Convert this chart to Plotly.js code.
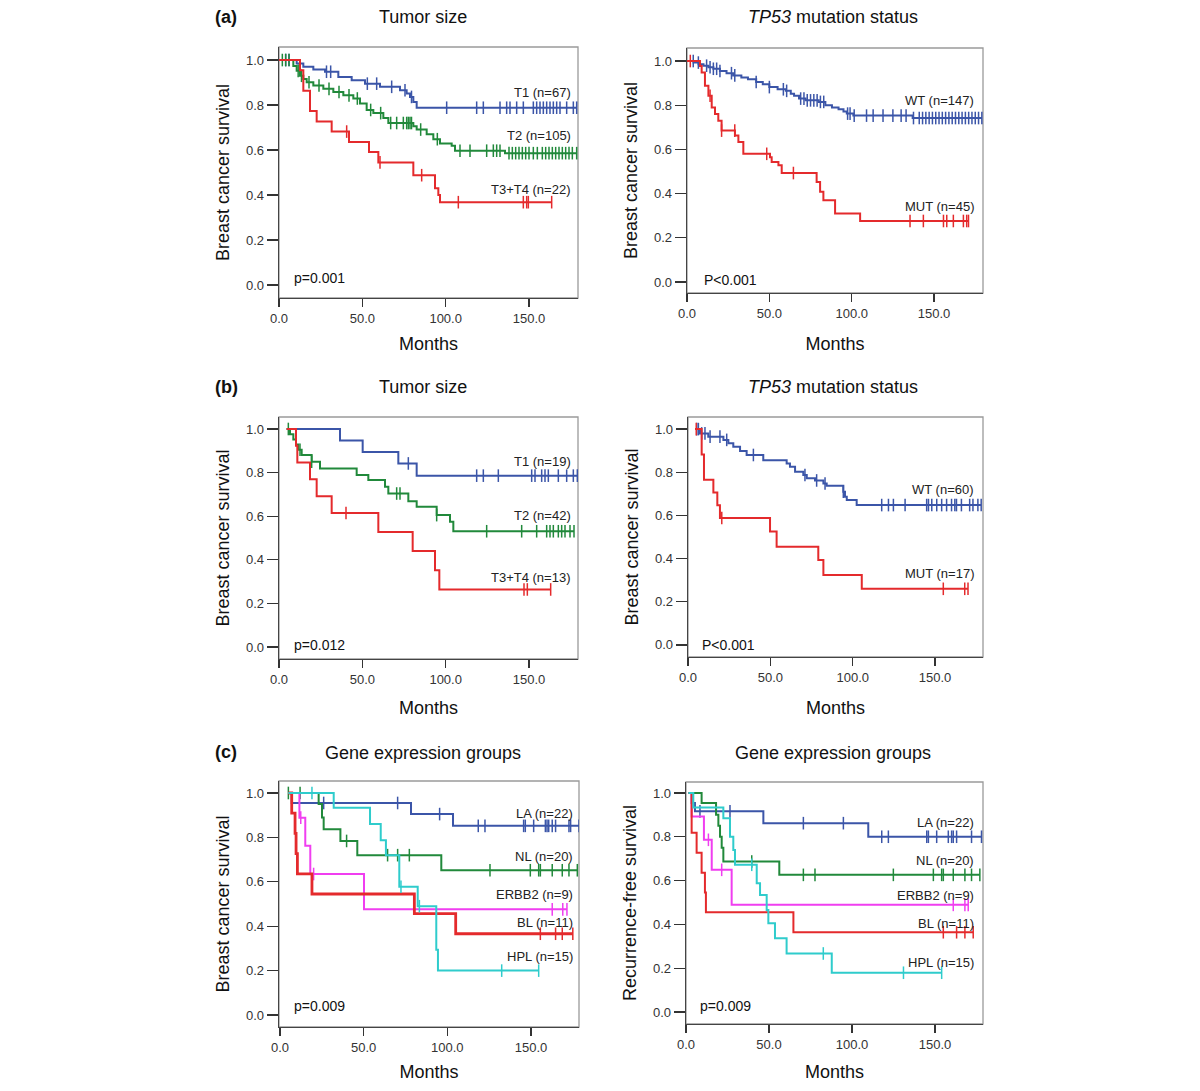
<!DOCTYPE html>
<html>
<head>
<meta charset="utf-8">
<script src="https://cdn.plot.ly/plotly-3.0.1.min.js"></script>
<style>
  body { margin: 0; background: #fff; }
  #chart { width: 1200px; height: 1091px; }
</style>
</head>
<body>
<div id="chart"></div>
<script>
// (a) left: tumor size, breast cancer survival (months / survival, + censored cases)
const aSizeT1Time = [0, 10.6, 14.6, 20.6, 27.6, 35.6, 43.6, 51.6, 60.6, 72.6, 76.6, 78.6, 80.6, 82.6];
const aSizeT1Surv = [1, 0.985, 0.970, 0.958, 0.948, 0.925, 0.910, 0.895, 0.881, 0.866, 0.851, 0.836, 0.814, 0.788];
const aSizeT1Cens = [4, 6, 28.5, 31, 53, 58.6, 67.6, 75.6, 79.5, 100.6, 118.6, 122.6, 132.6, 136.6, 138.6, 142.6, 146.6, 152.6, 154.6, 156.6, 158.6, 160.6, 162.6, 164.6, 166.6, 168.6, 172.6, 176.6, 178.6];
const aSizeT2Time = [0, 8.6, 10.6, 12.6, 14.6, 16.6, 20.6, 26.6, 32.6, 38.6, 44.6, 48.6, 52.6, 56.6, 62.6, 65.6, 80.6, 82.6, 88.6, 92.6, 96.6, 103.6, 105.6, 135.6];
const aSizeT2Surv = [1, 0.974, 0.952, 0.930, 0.916, 0.901, 0.887, 0.872, 0.858, 0.843, 0.829, 0.807, 0.778, 0.764, 0.742, 0.720, 0.706, 0.691, 0.670, 0.648, 0.629, 0.619, 0.597, 0.586];
const aSizeT2Cens = [2, 4, 6, 11.5, 13.5, 18, 24, 30, 36, 42, 47, 55, 61, 67, 70.6, 74.6, 76.6, 77.6, 78.6, 79.5, 85, 95, 108.6, 114.6, 124.6, 128.6, 130.6, 132.6, 138, 140, 142, 144, 146, 148, 150, 152.6, 155, 158, 160, 162, 164, 166, 168, 170, 172, 174, 176, 178.6];
const aSizeT34Time = [0, 12.6, 14.6, 18.6, 22.6, 31.6, 42, 54, 59.6, 80.6, 93.6, 95.6, 96.6];
const aSizeT34Surv = [1, 0.955, 0.864, 0.773, 0.727, 0.682, 0.636, 0.591, 0.545, 0.488, 0.43, 0.40, 0.368];
const aSizeT34Cens = [40.6, 60.6, 85.6, 107.6, 146.6, 148.6, 149.6, 163.6];

// (a) right: TP53 mutation status
const aTp53WtTime = [0, 4, 7, 10, 13, 16, 20, 24, 28, 33, 37, 42, 46, 50, 55, 60, 63, 65, 68, 72, 80, 84, 88, 92, 95, 97, 101, 137];
const aTp53WtSurv = [1, 0.993, 0.986, 0.979, 0.972, 0.965, 0.955, 0.945, 0.935, 0.925, 0.918, 0.905, 0.895, 0.882, 0.872, 0.865, 0.852, 0.843, 0.83, 0.822, 0.815, 0.80, 0.79, 0.782, 0.772, 0.762, 0.753, 0.742];
const aTp53WtCens = [3.8, 6.9, 11.9, 14, 16, 18, 20, 27, 29, 42, 50, 58.5, 60.5, 69, 71, 73, 75, 77, 79, 81, 83, 97.5, 99, 101.5, 109, 113, 119, 125, 130, 133, 137.5, 141, 143, 145, 147, 149, 151, 153, 155, 157, 159, 161, 163, 165, 167, 169, 171, 173, 175, 177, 179];
const aTp53MutTime = [0, 7.9, 8.9, 10.9, 13, 15, 17, 19, 21, 29.1, 31.2, 34.2, 50.4, 51.4, 55.5, 57.5, 78.7, 80.8, 82.8, 89.9, 105.1];
const aTp53MutSurv = [1, 0.978, 0.948, 0.888, 0.843, 0.79, 0.76, 0.73, 0.685, 0.663, 0.633, 0.58, 0.565, 0.543, 0.528, 0.493, 0.453, 0.408, 0.37, 0.31, 0.276];
const aTp53MutCens = [2, 14, 21, 29, 48.4, 64.6, 135.4, 143.5, 155.7, 157.7, 161.7, 167.8, 169.8, 170.9];

// (b) left: tumor size
const bSizeT1Time = [4.6, 36.6, 50.2, 71.6, 82.6];
const bSizeT1Surv = [1, 0.947, 0.895, 0.842, 0.786];
const bSizeT1Cens = [77.6, 118.6, 122.6, 131.6, 151.6, 153.6, 157.6, 159.6, 161.6, 167.6, 172.6, 176.6, 179];
const bSizeT2Time = [4.6, 6.6, 8.6, 10.2, 11.6, 13.6, 19.6, 24.6, 46.6, 53.6, 63.6, 65.6, 77.6, 82.6, 94.6, 102.6, 104.6];
const bSizeT2Surv = [1, 0.976, 0.952, 0.929, 0.905, 0.881, 0.85, 0.819, 0.789, 0.766, 0.735, 0.704, 0.669, 0.643, 0.605, 0.574, 0.531];
const bSizeT2Cens = [5.6, 12.6, 19.6, 70.6, 72.6, 94.6, 124.6, 145.6, 154.6, 160.6, 162.6, 164.6, 167.6, 169.6, 171.6, 174.6, 177];
const bSizeT34Time = [4.6, 10.2, 11, 18.6, 22.6, 31.6, 59.6, 80.2, 93.6, 96.2];
const bSizeT34Surv = [1, 0.923, 0.846, 0.769, 0.692, 0.615, 0.528, 0.44, 0.352, 0.264];
const bSizeT34Cens = [40.2, 147, 149, 163];

// (b) right: TP53 mutation status
const bTp53WtTime = [4.3, 7.3, 12.3, 21.5, 24.5, 27.5, 31.6, 35.6, 45.7, 59.9, 61.9, 65, 70, 72.1, 77.1, 82.2, 84.2, 94.3, 95.3, 96.4, 102.4];
const bTp53WtSurv = [1, 0.98, 0.965, 0.95, 0.934, 0.918, 0.898, 0.88, 0.856, 0.841, 0.826, 0.802, 0.787, 0.772, 0.762, 0.748, 0.738, 0.71, 0.687, 0.671, 0.648];
const bTp53WtCens = [5.3, 6.3, 8.3, 10.3, 13.4, 19.4, 23.5, 39.7, 71, 78.1, 83.2, 94.3, 117.6, 121.7, 124.7, 131.8, 144.9, 146, 148, 151, 154, 157, 160, 162, 163, 166, 171, 173, 176, 178];
const bTp53MutTime = [4.3, 8.3, 9.7, 15.4, 17.8, 19.4, 49.8, 53.8, 79.1, 82.2, 105.5];
const bTp53MutSurv = [1, 0.882, 0.765, 0.706, 0.647, 0.588, 0.525, 0.455, 0.393, 0.324, 0.26];
const bTp53MutCens = [5, 20.5, 155, 168, 170];

// (c) left: gene expression groups, breast cancer survival
const cBcsLaTime = [5, 7, 78.3, 103.4];
const cBcsLaSurv = [1, 0.955, 0.905, 0.852];
const cBcsLaCens = [26.1, 70.3, 95.4, 118.5, 122.5, 145.6, 146.6, 151.6, 158.6, 159.6, 160.6, 162.7, 164.7, 172.7, 173.7, 178.7];
const cBcsNlTime = [5, 23.1, 25.1, 26.1, 36.1, 46.2, 96.4];
const cBcsNlSurv = [1, 0.95, 0.89, 0.837, 0.784, 0.72, 0.652];
const cBcsNlCens = [5, 12, 39.8, 64.3, 70.3, 77.3, 125.5, 149.6, 154.6, 155.6, 162.7, 168.7, 172.7, 177.7];
const cBcsErbTime = [5, 11.6, 15.1, 18.1, 50.2];
const cBcsErbSurv = [1, 0.889, 0.762, 0.635, 0.476];
const cBcsErbCens = [12.4, 20.1, 162.7, 169, 171.5];
const cBcsBlTime = [5, 7, 9, 9.6, 10.4, 19.1, 80.3, 105];
const cBcsBlSurv = [1, 0.909, 0.818, 0.727, 0.636, 0.545, 0.457, 0.366];
const cBcsBlCens = [155.6, 164.7, 168.7, 175];
const cBcsHplTime = [5, 32.1, 53.8, 60.2, 63.3, 71.3, 82.3, 93.4, 94.4];
const cBcsHplSurv = [1, 0.933, 0.86, 0.787, 0.72, 0.578, 0.49, 0.294, 0.2];
const cBcsHplCens = [19.1, 72.3, 83.3, 132.5, 154.6];

// (c) right: gene expression groups, recurrence-free survival
const cRfsLaTime = [1.4, 3.4, 5.4, 46.6, 109.8];
const cRfsLaSurv = [1, 0.954, 0.916, 0.862, 0.80];
const cRfsLaCens = [8.4, 26.5, 70.7, 94.8, 117.9, 121.9, 145, 146, 151, 158, 160, 161, 163, 172, 178];
const cRfsNlTime = [1.4, 9.4, 18.1, 19.5, 20.5, 21.5, 22.5, 56.2];
const cRfsNlSurv = [1, 0.954, 0.90, 0.85, 0.80, 0.75, 0.687, 0.626];
const cRfsNlCens = [39.6, 70.7, 77.7, 124.9, 149, 154, 155, 161, 168, 172, 177];
const cRfsErbTime = [1.4, 3.4, 10.8, 15.5, 27.5];
const cRfsErbSurv = [1, 0.893, 0.786, 0.649, 0.489];
const cRfsErbCens = [13.5, 21.5, 161, 168, 170];
const cRfsBlTime = [1.4, 3.4, 6.4, 9.4, 11.4, 12, 64.7];
const cRfsBlSurv = [1, 0.818, 0.727, 0.636, 0.545, 0.455, 0.364];
const cRfsBlCens = [155, 163, 168, 173];
const cRfsHplTime = [1.4, 4.4, 22.5, 26.5, 28.5, 29.5, 42.6, 44.6, 48.6, 49.6, 53.6, 60.6, 87.8];
const cRfsHplSurv = [1, 0.933, 0.885, 0.80, 0.74, 0.672, 0.588, 0.534, 0.466, 0.405, 0.336, 0.267, 0.179];
const cRfsHplCens = [39.6, 82.7, 131, 154];

// texts
const panelTitles = ['Tumor size', '<i>TP53</i> mutation status', 'Tumor size', '<i>TP53</i> mutation status', 'Gene expression groups', 'Gene expression groups'];
const yTitles = ['Breast cancer survival', 'Breast cancer survival', 'Breast cancer survival', 'Breast cancer survival', 'Breast cancer survival', 'Recurrence-free survival'];
const pValues = ['p=0.001', 'P<0.001', 'p=0.012', 'P<0.001', 'p=0.009', 'p=0.009'];
const panelLetters = ['(a)', '(b)', '(c)'];

const BLUE = '#3b55a8', GREEN = '#21893b', RED = '#e42a2c', MAGENTA = '#f03ef0', CYAN = '#2fcccc';

const panels = [
  [
    {label: 'T1 (n=67)', time: aSizeT1Time, surv: aSizeT1Surv, cens: aSizeT1Cens, color: BLUE},
    {label: 'T2 (n=105)', time: aSizeT2Time, surv: aSizeT2Surv, cens: aSizeT2Cens, color: GREEN},
    {label: 'T3+T4 (n=22)', time: aSizeT34Time, surv: aSizeT34Surv, cens: aSizeT34Cens, color: RED}
  ],
  [
    {label: 'WT (n=147)', time: aTp53WtTime, surv: aTp53WtSurv, cens: aTp53WtCens, color: BLUE},
    {label: 'MUT (n=45)', time: aTp53MutTime, surv: aTp53MutSurv, cens: aTp53MutCens, color: RED}
  ],
  [
    {label: 'T1 (n=19)', time: bSizeT1Time, surv: bSizeT1Surv, cens: bSizeT1Cens, color: BLUE},
    {label: 'T2 (n=42)', time: bSizeT2Time, surv: bSizeT2Surv, cens: bSizeT2Cens, color: GREEN},
    {label: 'T3+T4 (n=13)', time: bSizeT34Time, surv: bSizeT34Surv, cens: bSizeT34Cens, color: RED}
  ],
  [
    {label: 'WT (n=60)', time: bTp53WtTime, surv: bTp53WtSurv, cens: bTp53WtCens, color: BLUE},
    {label: 'MUT (n=17)', time: bTp53MutTime, surv: bTp53MutSurv, cens: bTp53MutCens, color: RED}
  ],
  [
    {label: 'LA (n=22)', time: cBcsLaTime, surv: cBcsLaSurv, cens: cBcsLaCens, color: BLUE},
    {label: 'NL (n=20)', time: cBcsNlTime, surv: cBcsNlSurv, cens: cBcsNlCens, color: GREEN},
    {label: 'ERBB2 (n=9)', time: cBcsErbTime, surv: cBcsErbSurv, cens: cBcsErbCens, color: MAGENTA},
    {label: 'BL (n=11)', time: cBcsBlTime, surv: cBcsBlSurv, cens: cBcsBlCens, color: RED, width: 2.8},
    {label: 'HPL (n=15)', time: cBcsHplTime, surv: cBcsHplSurv, cens: cBcsHplCens, color: CYAN}
  ],
  [
    {label: 'LA (n=22)', time: cRfsLaTime, surv: cRfsLaSurv, cens: cRfsLaCens, color: BLUE},
    {label: 'NL (n=20)', time: cRfsNlTime, surv: cRfsNlSurv, cens: cRfsNlCens, color: GREEN},
    {label: 'ERBB2 (n=9)', time: cRfsErbTime, surv: cRfsErbSurv, cens: cRfsErbCens, color: MAGENTA},
    {label: 'BL (n=11)', time: cRfsBlTime, surv: cRfsBlSurv, cens: cRfsBlCens, color: RED},
    {label: 'HPL (n=15)', time: cRfsHplTime, surv: cRfsHplSurv, cens: cRfsHplCens, color: CYAN}
  ]
];

// frame boxes in px (left, right, top, bottom), axis ranges, label spots
const boxes = [
  {l: 279, r: 578, t: 47, b: 298, xr: [0, 179.4], yr: [-0.058, 1.058], so: 12, labX: 176.4, labY: [0.857, 0.663, 0.425], pX: 7.8, pY: 0.03},
  {l: 687, r: 983, t: 48, b: 293, xr: [0, 179.7], yr: [-0.050, 1.059], so: 17, labX: 175.5, labY: [0.823, 0.34], pX: 8.9, pY: 0.01},
  {l: 279, r: 578, t: 417, b: 659, xr: [0, 179.4], yr: [-0.055, 1.055], so: 15, labX: 176.2, labY: [0.85, 0.605, 0.318], pX: 7.6, pY: 0.008},
  {l: 688, r: 983, t: 417, b: 657, xr: [0, 179.1], yr: [-0.056, 1.056], so: 17, labX: 174.9, labY: [0.718, 0.332], pX: 7.3, pY: 0.0},
  {l: 279, r: 579, t: 781, b: 1027, xr: [-0.6, 178.7], yr: [-0.054, 1.054], so: 11, labX: 176.3, labY: [0.908, 0.713, 0.543, 0.415, 0.264], pX: 7, pY: 0.041},
  {l: 686, r: 983, t: 782, b: 1024, xr: [0, 178.9], yr: [-0.055, 1.05], so: 14, labX: 174.7, labY: [0.867, 0.69, 0.534, 0.405, 0.224], pX: 7.4, pY: 0.026}
];

const W = 1200, H = 1091;
const FONT = 'Arial, "Liberation Sans", sans-serif';

function survAt(time, surv, t) {
  let s = surv[0];
  for (let i = 0; i < time.length; i++) {
    if (time[i] <= t) s = surv[i];
  }
  return s;
}

let data = [];
let annotations = [];
let shapes = [];
let layout = {
  width: W,
  height: H,
  margin: {l: 0, r: 0, t: 0, b: 0},
  paper_bgcolor: '#fff',
  plot_bgcolor: '#fff',
  showlegend: false,
  font: {family: FONT, color: '#222'}
};

panels.forEach((curves, i) => {
  const box = boxes[i];
  const sfx = i === 0 ? '' : String(i + 1);
  const xa = 'x' + sfx, ya = 'y' + sfx;

  curves.forEach((c, k) => {
    const last = c.surv[c.surv.length - 1];
    const end = Math.max(c.time[c.time.length - 1], c.cens[c.cens.length - 1]);
    data.push({
      x: c.time.concat([end]),
      y: c.surv.concat([last]),
      mode: 'lines',
      line: {shape: 'hv', color: c.color, width: c.width || 2},
      xaxis: xa, yaxis: ya, hoverinfo: 'skip'
    });
    data.push({
      x: c.cens,
      y: c.cens.map(t => survAt(c.time, c.surv, t)),
      mode: 'markers',
      marker: {symbol: 'line-ns', size: 9, color: c.color, line: {color: c.color, width: 1.5}},
      xaxis: xa, yaxis: ya, hoverinfo: 'skip'
    });
    annotations.push({
      xref: xa, yref: ya, x: box.labX, y: box.labY[k],
      text: c.label, showarrow: false, xanchor: 'right', yanchor: 'middle',
      font: {size: 13, color: '#222', family: FONT}
    });
  });

  annotations.push({
    xref: xa, yref: ya, x: box.pX, y: box.pY, text: pValues[i], showarrow: false,
    xanchor: 'left', yanchor: 'middle', font: {size: 14, color: '#111', family: FONT}
  });

  // panel title
  annotations.push({
    xref: 'paper', yref: 'paper',
    x: (i % 2 === 0 ? 423 : 833) / W,
    y: 1 - ([17, 17, 387, 387, 753, 753][i]) / H,
    text: panelTitles[i], showarrow: false, xanchor: 'center', yanchor: 'middle',
    font: {size: 18, color: '#111', family: FONT}
  });

  layout['xaxis' + sfx] = {
    domain: [box.l / W, box.r / W],
    anchor: ya,
    range: box.xr,
    tickvals: [0, 50, 100, 150],
    tickformat: '.1f',
    ticks: 'outside', ticklen: 8, tickwidth: 1.3, tickcolor: '#333',
    showline: true, linecolor: '#444', linewidth: 1.4,
    showgrid: false, zeroline: false,
    tickfont: {size: 13, color: '#333', family: FONT},
    title: {text: 'Months', font: {size: 18, color: '#111', family: FONT}, standoff: box.so}
  };
  layout['yaxis' + sfx] = {
    domain: [1 - box.b / H, 1 - box.t / H],
    anchor: xa,
    range: box.yr,
    tickvals: [0, 0.2, 0.4, 0.6, 0.8, 1.0],
    tickformat: '.1f',
    ticks: 'outside', ticklen: 11, tickwidth: 1.3, tickcolor: '#333',
    showline: true, linecolor: '#444', linewidth: 1.4,
    showgrid: false, zeroline: false,
    tickfont: {size: 13, color: '#333', family: FONT},
    title: {text: yTitles[i], font: {size: 18, color: '#111', family: FONT}, standoff: 11}
  };

  shapes.push({
    type: 'rect', xref: xa + ' domain', yref: ya + ' domain',
    x0: 0, x1: 1, y0: 0, y1: 1,
    line: {color: '#9a9a9a', width: 1.3}, layer: 'below'
  });
});

panelLetters.forEach((txt, k) => {
  annotations.push({
    xref: 'paper', yref: 'paper', x: 226 / W, y: 1 - [17, 387, 752][k] / H,
    text: '<b>' + txt + '</b>', showarrow: false, xanchor: 'center', yanchor: 'middle',
    font: {size: 18, color: '#111', family: FONT}
  });
});

layout.annotations = annotations;
layout.shapes = shapes;

Plotly.newPlot('chart', data, layout, {displayModeBar: false, staticPlot: true});
</script>
</body>
</html>
